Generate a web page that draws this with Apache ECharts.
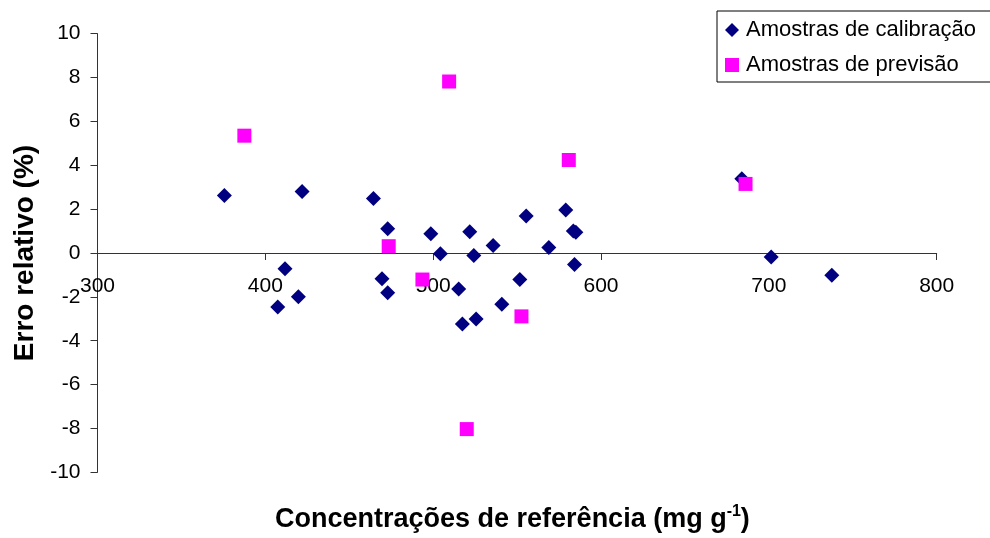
<!DOCTYPE html>
<html>
<head>
<meta charset="utf-8">
<script src="https://cdn.jsdelivr.net/npm/echarts@6/dist/echarts.min.js"></script>
<style>
  html, body { margin: 0; padding: 0; background: #fff; }
  #chart { width: 990px; height: 538px; }
</style>
</head>
<body>
<div id="chart"></div>
<script>
// Reference concentration (mg g-1) and relative error (%) for each sample set
const calibX = [375.6, 407.4, 411.7, 419.7, 421.9, 464.4, 469.5, 472.9, 472.9, 498.6,
                504.3, 515.2, 517.4, 521.8, 524.2, 525.6, 535.7, 540.9, 551.6, 555.4,
                568.9, 579.0, 583.5, 585.0, 584.2, 683.9, 701.4, 737.5];
const calibY = [2.62, -2.46, -0.72, -2.00, 2.80, 2.48, -1.17, 1.11, -1.81, 0.88,
                -0.03, -1.64, -3.24, 0.97, -0.11, -3.01, 0.34, -2.34, -1.21, 1.69,
                0.25, 1.96, 1.00, 0.95, -0.53, 3.39, -0.18, -1.02];

const predX = [387.5, 473.5, 493.6, 509.5, 520.0, 552.6, 580.8, 686.1];
const predY = [5.35, 0.31, -1.21, 7.82, -8.03, -2.89, 4.24, 3.15];

const xTicks = { min: 300, max: 800, step: 100 };
const yTicks = { min: -10, max: 10, step: 2 };

const seriesNames = ['Amostras de calibração', 'Amostras de previsão'];
const xTitle = 'Concentrações de referência (mg g';
const xTitleSup = '-1';
const yTitle = 'Erro relativo (%)';

const pairs = (xs, ys) => xs.map((x, i) => [x, ys[i]]);

const FONT = '"Liberation Sans", Arial, sans-serif';
const axisColor = '#333';

// plot area
const grid = { left: 97.5, right: 53.3, top: 33.7, bottom: 65.7 };
const plotH = 538 - grid.top - grid.bottom;
// the x axis (line, ticks and labels) sits on the y = 0 line
const xAxisLift = plotH * (0 - yTicks.min) / (yTicks.max - yTicks.min);

const chart = echarts.init(document.getElementById('chart'), null, { renderer: 'canvas' });
chart.setOption({
  backgroundColor: '#ffffff',
  animation: false,
  textStyle: { fontFamily: FONT, color: '#000' },
  grid: Object.assign({ containLabel: false }, grid),
  title: {
    text: '{a|' + xTitle + '}{s|' + xTitleSup + '}{a|)}',
    left: 275,
    top: 504,
    padding: 0,
    textStyle: {
      rich: {
        a: { fontFamily: FONT, fontSize: 27, fontWeight: 'bold', color: '#000', lineHeight: 32 },
        s: { fontFamily: FONT, fontSize: 16, fontWeight: 'bold', color: '#000', verticalAlign: 'top', lineHeight: 32, padding: [0, 0, 14, 0] }
      }
    }
  },
  legend: {
    orient: 'vertical',
    left: 717,
    top: 11,
    padding: [8, 15, 6, 8],
    itemGap: 13,
    itemWidth: 14,
    itemHeight: 14,
    borderColor: '#000',
    borderWidth: 1,
    backgroundColor: '#fff',
    textStyle: { fontFamily: FONT, fontSize: 22, color: '#000', padding: [0, 0, 0, 2] },
    data: [
      { name: seriesNames[0], icon: 'diamond', itemStyle: { opacity: 1 } },
      { name: seriesNames[1], icon: 'rect', itemStyle: { opacity: 1 } }
    ]
  },
  xAxis: {
    type: 'value',
    position: 'bottom',
    min: xTicks.min,
    max: xTicks.max,
    interval: xTicks.step,
    offset: -xAxisLift,
    axisLine: { show: true, onZero: false, lineStyle: { color: axisColor, width: 1 } },
    axisTick: { show: true, inside: false, length: 7, lineStyle: { color: axisColor } },
    axisLabel: { fontFamily: FONT, fontSize: 21, color: '#000', margin: 23, showMinLabel: true, showMaxLabel: true },
    splitLine: { show: false }
  },
  yAxis: {
    type: 'value',
    min: yTicks.min,
    max: yTicks.max,
    interval: yTicks.step,
    name: yTitle,
    nameLocation: 'middle',
    nameGap: 58,
    nameTextStyle: { fontFamily: FONT, fontSize: 28, fontWeight: 'bold', color: '#000' },
    axisLine: { show: true, onZero: false, lineStyle: { color: axisColor, width: 1 } },
    axisTick: { show: true, inside: false, length: 7, lineStyle: { color: axisColor } },
    axisLabel: { fontFamily: FONT, fontSize: 21, color: '#000', margin: 17 },
    splitLine: { show: false }
  },
  series: [
    {
      name: seriesNames[0],
      type: 'scatter',
      symbol: 'diamond',
      symbolSize: 15,
      itemStyle: { color: '#000080', opacity: 1 },
      data: pairs(calibX, calibY),
      z: 2
    },
    {
      name: seriesNames[1],
      type: 'scatter',
      symbol: 'rect',
      symbolSize: 14,
      itemStyle: { color: '#ff00ff', opacity: 1 },
      data: pairs(predX, predY),
      z: 3
    }
  ]
});
</script>
</body>
</html>
